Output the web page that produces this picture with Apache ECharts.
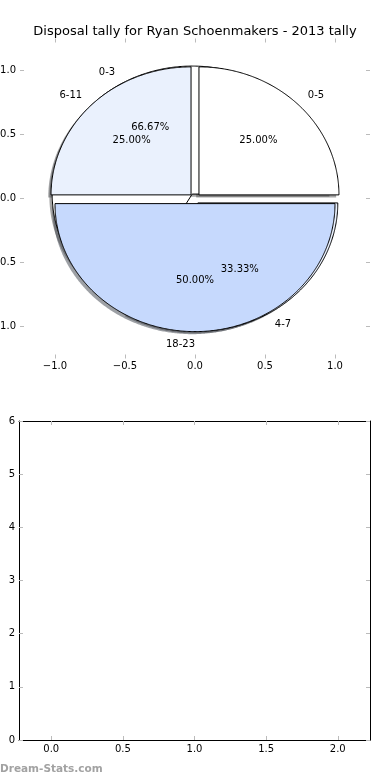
<!DOCTYPE html>
<html><head><meta charset="utf-8">
<script src="https://cdn.jsdelivr.net/npm/echarts@6/dist/echarts.min.js"></script>
<style>html,body{margin:0;padding:0;background:#fff}#c{width:390px;height:780px}</style>
</head><body><div id="c"></div>
<script>
// ---- data ----
const titleText = 'Disposal tally for Ryan Schoenmakers - 2013 tally';
const outerLabels = ['0-5', '6-11', '18-23'];
const outerValues = [1, 1, 2];
const innerLabels = ['0-3', '4-7'];
const innerValues = [2, 1];
const pieTicks = [-1, -0.5, 0, 0.5, 1];
const lowerXTicks = [0, 0.5, 1, 1.5, 2];
const lowerYTicks = [0, 1, 2, 3, 4, 5, 6];
const watermark = 'Dream-Stats.com';

// ---- style ----
const FONT = 'DejaVu Sans';
const sliceColors = ['#ffffff', '#eaf1fd', '#c6d9fd'];
const EXPLODE = 0.04;
const SHADOW_DX = -0.02, SHADOW_DY = -0.02;
const TICK_COLOR = '#bbbbbb';

function shadowColor(hex) {
  const r = parseInt(hex.slice(1, 3), 16), g = parseInt(hex.slice(3, 5), 16), b = parseInt(hex.slice(5, 7), 16);
  return 'rgba(' + Math.round(r * 0.3) + ',' + Math.round(g * 0.3) + ',' + Math.round(b * 0.3) + ',0.5)';
}

function angles(values, i) {
  const total = values.reduce((a, b) => a + b, 0);
  let before = 0;
  for (let k = 0; k < i; k++) before += values[k];
  const a0 = before / total * 2 * Math.PI;
  const a1 = (before + values[i]) / total * 2 * Math.PI;
  return { a0, a1, am: (a0 + a1) / 2, frac: values[i] / total };
}

function wedgeSeries(values, z, shadow) {
  return {
    type: 'custom', xAxisIndex: 0, yAxisIndex: 0, z: z, silent: true, animation: false,
    data: values.map((v, i) => [0, 0, v, i]),
    renderItem: function (params, api) {
      const i = params.dataIndex;
      const g = angles(values, i);
      const ox = EXPLODE * Math.cos(g.am) + (shadow ? SHADOW_DX : 0);
      const oy = EXPLODE * Math.sin(g.am) + (shadow ? SHADOW_DY : 0);
      const pts = [api.coord([ox, oy])];
      const n = Math.max(4, Math.ceil((g.a1 - g.a0) / (Math.PI / 360)));
      for (let j = 0; j <= n; j++) {
        const a = g.a0 + (g.a1 - g.a0) * j / n;
        pts.push(api.coord([ox + Math.cos(a), oy + Math.sin(a)]));
      }
      const col = sliceColors[i % sliceColors.length];
      return {
        type: 'polygon', shape: { points: pts },
        style: shadow ? { fill: shadowColor(col), stroke: null } : { fill: col, stroke: '#000', lineWidth: 1 }
      };
    }
  };
}

function labelSeries(values, labels, z) {
  return {
    type: 'custom', xAxisIndex: 0, yAxisIndex: 0, z: z, silent: true, animation: false,
    data: values.map((v, i) => [0, 0, v, i]),
    renderItem: function (params, api) {
      const i = params.dataIndex;
      const g = angles(values, i);
      const ex = EXPLODE * Math.cos(g.am), ey = EXPLODE * Math.sin(g.am);
      const lx = ex + 1.1 * Math.cos(g.am), ly = ey + 1.1 * Math.sin(g.am);
      const px = ex + 0.6 * Math.cos(g.am), py = ey + 0.6 * Math.sin(g.am);
      const p1 = api.coord([lx, ly]), p2 = api.coord([px, py]);
      return {
        type: 'group', children: [
          { type: 'text', x: p1[0], y: p1[1], style: { text: labels[i], align: lx > 0 ? 'left' : 'right', verticalAlign: 'middle', fontSize: 10, fontFamily: FONT, fill: '#000' } },
          { type: 'text', x: p2[0], y: p2[1], style: { text: (g.frac * 100).toFixed(2) + '%', align: 'center', verticalAlign: 'middle', fontSize: 10, fontFamily: FONT, fill: '#000' } }
        ]
      };
    }
  };
}

const fmtPie = v => (v < 0 ? '\u2212' : '') + Math.abs(v).toFixed(1);
const labelStyle = { fontSize: 10, fontFamily: FONT, color: '#000' };
const tick = (vals) => ({ show: true, inside: true, length: 4, lineStyle: { color: TICK_COLOR, width: 1 }, customValues: vals });
const hiddenLine = { show: false, onZero: false };
const blackLine = { show: true, onZero: false, lineStyle: { color: '#000', width: 1 } };

const option = {
  animation: false,
  backgroundColor: '#fff',
  title: { text: titleText, left: 'center', top: 20, textStyle: { fontSize: 13, fontWeight: 'normal', fontFamily: FONT, color: '#000' } },
  graphic: [{ type: 'text', left: 0, top: 764, style: { text: watermark, fontSize: 10.5, fontWeight: 'bold', fontFamily: FONT, fill: '#a2a2a2' } }],
  grid: [
    { left: 20, top: 38.5, width: 350, height: 320, outerBoundsMode: 'none', containLabel: false },
    { left: 19, top: 421, right: 20, bottom: 40, outerBoundsMode: 'none', containLabel: false }
  ],
  xAxis: [
    { gridIndex: 0, type: 'value', position: 'bottom', min: -1.25, max: 1.25, axisLine: hiddenLine, splitLine: { show: false },
      axisTick: tick(pieTicks), axisLabel: Object.assign({ customValues: pieTicks, formatter: fmtPie, margin: 3 }, labelStyle) },
    { gridIndex: 0, type: 'value', position: 'top', min: -1.25, max: 1.25, axisLine: hiddenLine, splitLine: { show: false },
      axisTick: tick(pieTicks), axisLabel: { show: false } },
    { gridIndex: 1, type: 'value', position: 'bottom', min: -0.225, max: 2.225, axisLine: blackLine, splitLine: { show: false },
      axisTick: tick(lowerXTicks), axisLabel: Object.assign({ customValues: lowerXTicks, formatter: v => v.toFixed(1), margin: 4 }, labelStyle) },
    { gridIndex: 1, type: 'value', position: 'top', min: -0.225, max: 2.225, axisLine: blackLine, splitLine: { show: false },
      axisTick: tick(lowerXTicks), axisLabel: { show: false } }
  ],
  yAxis: [
    { gridIndex: 0, type: 'value', position: 'left', min: -1.25, max: 1.25, axisLine: hiddenLine, splitLine: { show: false },
      axisTick: tick(pieTicks), axisLabel: Object.assign({ customValues: pieTicks, formatter: fmtPie, margin: 4 }, labelStyle) },
    { gridIndex: 0, type: 'value', position: 'right', min: -1.25, max: 1.25, axisLine: hiddenLine, splitLine: { show: false },
      axisTick: tick(pieTicks), axisLabel: { show: false } },
    { gridIndex: 1, type: 'value', position: 'left', min: 0, max: 6, interval: 1, axisLine: blackLine, splitLine: { show: false },
      axisTick: tick(lowerYTicks), axisLabel: Object.assign({ customValues: lowerYTicks, formatter: v => String(v), margin: 4 }, labelStyle) },
    { gridIndex: 1, type: 'value', position: 'right', min: 0, max: 6, interval: 1, axisLine: blackLine, splitLine: { show: false },
      axisTick: tick(lowerYTicks), axisLabel: { show: false } }
  ],
  series: [
    wedgeSeries(innerValues, 1, true),
    wedgeSeries(outerValues, 1, true),
    wedgeSeries(innerValues, 2, false),
    wedgeSeries(outerValues, 3, false),
    labelSeries(innerValues, innerLabels, 5),
    labelSeries(outerValues, outerLabels, 5),
    { type: 'line', xAxisIndex: 2, yAxisIndex: 2, data: [], silent: true }
  ]
};
const chart = echarts.init(document.getElementById('c'), null, { renderer: 'canvas' });
chart.setOption(option);
</script>
</body></html>
